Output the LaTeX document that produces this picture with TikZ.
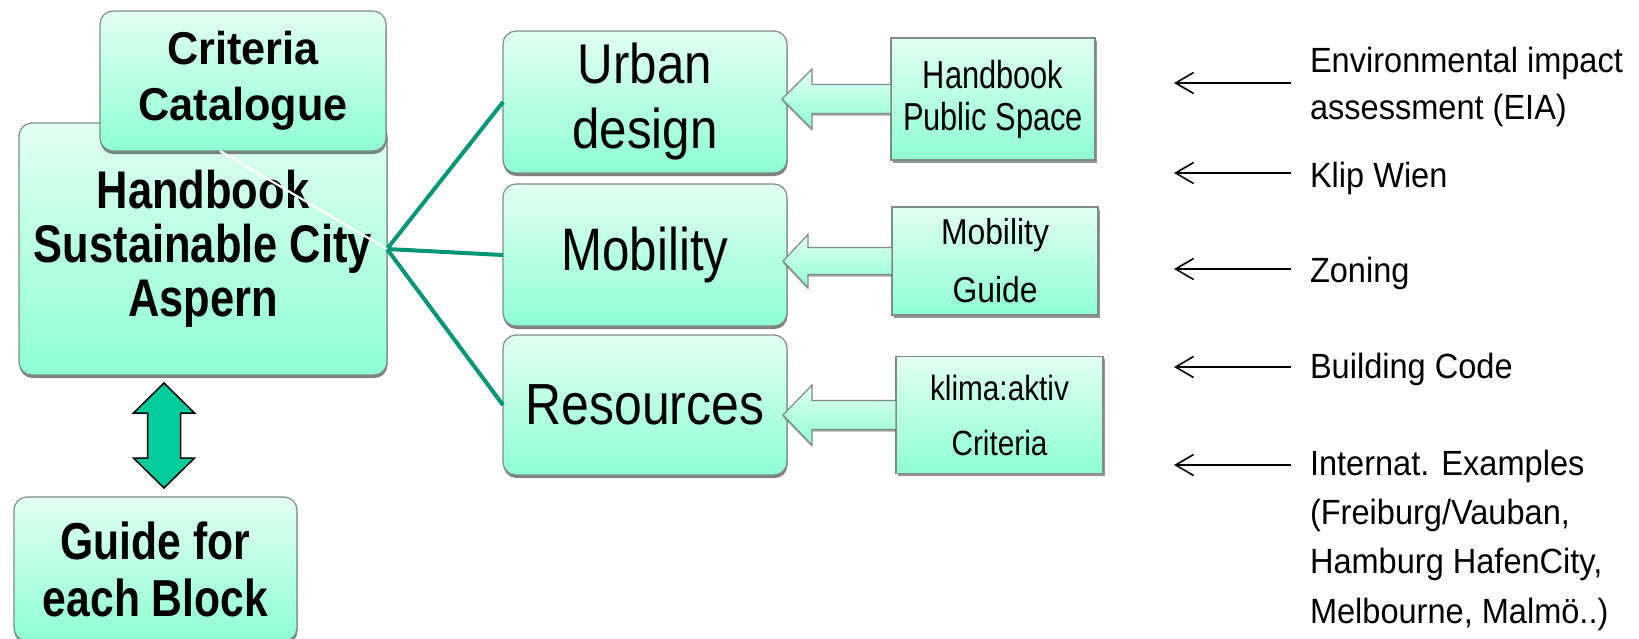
\documentclass[tikz,border=0pt]{standalone}
\usepackage{fontspec}
\setmainfont{Liberation Sans}
% condensed cuts of the sans face for the different labels
\newfontfamily\fBig[FakeStretch=0.82]{Liberation Sans}
\newfontfamily\fCrit[FakeStretch=0.94]{Liberation Sans}
\newfontfamily\fUrb[FakeStretch=0.88]{Liberation Sans}
\newfontfamily\fMob[FakeStretch=0.82]{Liberation Sans}
\newfontfamily\fRes[FakeStretch=0.86]{Liberation Sans}
\newfontfamily\fHps[FakeStretch=0.79]{Liberation Sans}
\newfontfamily\fMg[FakeStretch=0.885]{Liberation Sans}
\newfontfamily\fKl[FakeStretch=0.85]{Liberation Sans}
\newfontfamily\fSide[FakeStretch=0.93]{Liberation Sans}
\usetikzlibrary{arrows.meta,calc,shadows}

\definecolor{mintTop}{RGB}{226,255,243}
\definecolor{mintBot}{RGB}{142,255,212}
\definecolor{boxLine}{RGB}{125,140,135}
\definecolor{linkGreen}{RGB}{0,150,118}
\definecolor{arrowGreen}{RGB}{0,204,153}

% hollow block arrow from a source box towards a topic box
\newcommand{\fatArrowShape}[5]{% #1 tip, #2 source node, #3 head length, #4 head half-height, #5 shaft half-height
  \draw[fatarrow] (#1) -- ($(#1)+(#3,-#4)$) -- ($(#1)+(#3,-#5)$)
    -- ($(#2.west)+(0,-#5)$) -- ($(#2.west)+(0,#5)$)
    -- ($(#1)+(#3,#5)$) -- ($(#1)+(#3,#4)$) -- cycle;}

\begin{document}
\begin{tikzpicture}[x=1pt,y=-1pt,
  mainbox/.style={draw=boxLine, line width=1.2pt, rounded corners=13pt,
    top color=mintTop, bottom color=mintBot, inner sep=0pt, outer sep=0pt,
    align=center,
    drop shadow={shadow xshift=0.5pt, shadow yshift=-3pt, fill=black!70, opacity=0.7}},
  srcbox/.style={draw=boxLine, line width=1.2pt,
    top color=mintTop, bottom color=mintBot, inner sep=0pt, outer sep=0pt,
    align=center,
    drop shadow={shadow xshift=2pt, shadow yshift=-2.5pt, fill=black!70, opacity=0.6}},
  fatarrow/.style={draw=boxLine, line width=1.2pt, line join=miter,
    top color=mintTop, bottom color=mintBot,
    drop shadow={shadow xshift=0pt, shadow yshift=-2pt, fill=black!70, opacity=0.5}},
  link/.style={draw=linkGreen, line width=4pt},
  sidetext/.style={anchor=north west, inner sep=0pt, outer sep=0pt, align=left,
    font=\fSide\fontsize{35}{47}\selectfont},
  sidearrow/.style={draw=black, line width=1.6pt,
    -{Straight Barb[length=18pt,width=21pt,line width=1.6pt]}},
  twoway/.style={fill=arrowGreen, draw=black, line width=1.5pt, line join=miter}]

\path[use as bounding box] (0,0) rectangle (1639,638);
\clip (0,0) rectangle (1639,638);

% left column
\node[mainbox, minimum width=368pt, minimum height=252pt,
  font=\fBig\bfseries\fontsize{53}{54}\selectfont]
  (handbook) at (203,249) {Handbook\\Sustainable City\\Aspern};
\node[mainbox, minimum width=286pt, minimum height=140pt,
  font=\fCrit\bfseries\fontsize{46}{56}\selectfont]
  (criteria) at (243,81) {Criteria\\Catalogue};
\node[mainbox, minimum width=283pt, minimum height=144pt,
  font=\fBig\bfseries\fontsize{52}{57}\selectfont]
  (guide) at (155.5,569) {Guide for\\each Block};

% two-way arrow between handbook and block guide
\coordinate (dbl) at (164,435.5);
\begin{scope}[shift={(dbl)}]
  \draw[twoway] (0,-52.5) -- (30.5,-22.5) -- (16.5,-22.5) -- (16.5,22.5)
    -- (30.5,22.5) -- (0,52.5) -- (-30.5,22.5) -- (-16.5,22.5)
    -- (-16.5,-22.5) -- (-30.5,-22.5) -- cycle;
\end{scope}

% topic boxes
\node[mainbox, minimum width=284pt, minimum height=142pt,
  font=\fUrb\fontsize{56}{65}\selectfont]
  (urban) at (645,102) {Urban\\design};
\node[mainbox, minimum width=284pt, minimum height=142pt,
  font=\fMob\fontsize{60}{62}\selectfont]
  (mobility) at (645,255) {Mobility};
\node[mainbox, minimum width=284pt, minimum height=140pt,
  font=\fRes\fontsize{58}{60}\selectfont]
  (resources) at (645,405) {Resources};

% source documents
\node[srcbox, minimum width=204pt, minimum height=122pt,
  font=\fHps\fontsize{39}{42}\selectfont]
  (hps) at (993,99) {Handbook\\Public Space};
\node[srcbox, minimum width=206pt, minimum height=108pt,
  font=\fMg\fontsize{36}{58}\selectfont]
  (mguide) at (995,261) {Mobility\\Guide};
\node[srcbox, minimum width=207pt, minimum height=117pt,
  font=\fKl\fontsize{35}{55}\selectfont]
  (klima) at (999.5,415) {klima:aktiv\\Criteria};

% links from the handbook to the topics
\draw[link] (handbook.east) -- (urban.west);
\draw[link] (handbook.east) -- (mobility.west);
\draw[link] (handbook.east) -- (resources.west);
\coordinate (critfoot) at ($(criteria.south)+(-23,0)$);
\draw[white, line width=2.2pt] (critfoot) -- (handbook.east);

% block arrows from sources to topics
\coordinate (tipU) at ($(urban.east |- hps.west)+(-5,0)$);
\coordinate (tipM) at ($(mobility.east |- mguide.west)+(-4,0)$);
\coordinate (tipR) at ($(resources.east |- klima.west)+(-4,0)$);
\fatArrowShape{tipU}{hps}{30}{30}{14.5}
\fatArrowShape{tipM}{mguide}{25}{26.5}{13.5}
\fatArrowShape{tipR}{klima}{29}{30}{14.5}

% external inputs
\node[sidetext] (eia) at (1310,47) {Environmental impact\\assessment (EIA)};
\node[sidetext] (klip) at (1310,162) {Klip Wien};
\node[sidetext] (zoning) at (1310,257) {Zoning};
\node[sidetext] (bcode) at (1310,353) {Building Code};
\node[sidetext, font=\fSide\fontsize{35}{49.3}\selectfont]
  (intl) at (1310,450) {Internat. Examples\\(Freiburg/Vauban,\\Hamburg HafenCity,\\Melbourne, Malmö..)};

\coordinate (eiaT) at (1291,83);   \coordinate (eiaH) at (1174,83);
\coordinate (klipT) at (1291,173); \coordinate (klipH) at (1174,173);
\coordinate (zonT) at (1291,269);  \coordinate (zonH) at (1174,269);
\coordinate (bcT) at (1291,367);   \coordinate (bcH) at (1174,367);
\coordinate (intT) at (1291,465);  \coordinate (intH) at (1174,465);
\draw[sidearrow] (eiaT) -- (eiaH);
\draw[sidearrow] (klipT) -- (klipH);
\draw[sidearrow] (zonT) -- (zonH);
\draw[sidearrow] (bcT) -- (bcH);
\draw[sidearrow] (intT) -- (intH);
\end{tikzpicture}
\end{document}
